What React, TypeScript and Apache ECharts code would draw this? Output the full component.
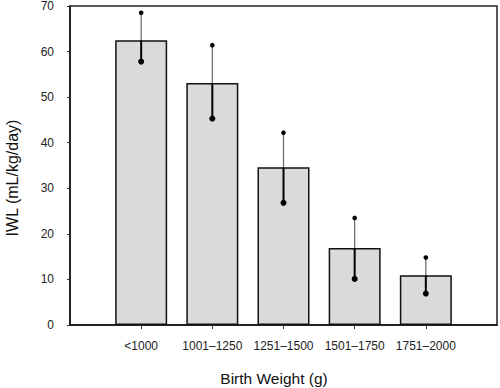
import React, { useEffect, useRef } from "react";
import * as echarts from "echarts";

const categories = ["", "<1000", "1001–1250", "1251–1500", "1501–1750", "1751–2000", ""];
const means = [62.5, 53.1, 34.6, 16.9, 10.9];
const lowers = [57.8, 45.3, 26.8, 10.1, 6.9];
const uppers = [68.5, 61.4, 42.2, 23.5, 14.8];
const yTicks = [0, 10, 20, 30, 40, 50, 60, 70];

export default function App() {
  const ref = useRef<HTMLDivElement>(null);
  useEffect(() => {
    const chart = echarts.init(ref.current!, null, { renderer: "svg" });
    const barData = categories.map((_, i) => (i >= 1 && i <= 5 ? means[i - 1] : "-"));
    const errData = means.map((m, i) => [i + 1, lowers[i], m, uppers[i]]);
    chart.setOption({
      animation: false,
      backgroundColor: "#fff",
      grid: {
        left: 70,
        right: 3,
        top: 4,
        bottom: 63,
        show: true,
        borderColor: "#222",
        borderWidth: 1.5,
      },
      xAxis: {
        type: "category",
        data: categories,
        boundaryGap: false,
        axisLine: { lineStyle: { color: "#111", width: 1.5 } },
        axisTick: {
          show: true,
          length: 4,
          interval: (i: number) => i >= 1 && i <= 5,
          lineStyle: { color: "#333" },
        },
        axisLabel: {
          interval: 0,
          margin: 15,
          color: "#222",
          fontSize: 12,
          fontFamily: "Liberation Sans, Arial",
        },
        splitLine: { show: false },
      },
      yAxis: {
        type: "value",
        min: yTicks[0],
        max: yTicks[yTicks.length - 1],
        interval: 10,
        axisLine: { show: true, lineStyle: { color: "#111", width: 1.5 } },
        axisTick: { show: true, length: 3, lineStyle: { color: "#333" } },
        axisLabel: {
          margin: 16,
          color: "#222",
          fontSize: 12,
          fontFamily: "Liberation Sans, Arial",
        },
        splitLine: { show: false },
      },
      graphic: [
        {
          type: "text",
          x: 12,
          y: 178,
          rotation: Math.PI / 2,
          style: {
            text: "IWL (mL/kg/day)",
            fontSize: 16,
            fontFamily: "Liberation Sans, Arial",
            fill: "#111",
            align: "center",
            verticalAlign: "middle",
          },
        },
        {
          type: "text",
          x: 274,
          y: 378,
          style: {
            text: "Birth Weight (g)",
            fontSize: 15.5,
            fontFamily: "Liberation Sans, Arial",
            fill: "#111",
            align: "center",
            verticalAlign: "middle",
          },
        },
      ],
      series: [
        {
          type: "bar",
          data: barData,
          barWidth: 52,
          itemStyle: { color: "#dadada", borderColor: "#111", borderWidth: 1.5 },
        },
        {
          type: "custom",
          data: errData,
          z: 10,
          renderItem: (params: any, api: any) => {
            const x = api.value(0);
            const lo = api.coord([x, api.value(1)]);
            const mid = api.coord([x, api.value(2)]);
            const hi = api.coord([x, api.value(3)]);
            return {
              type: "group",
              children: [
                {
                  type: "line",
                  shape: { x1: hi[0], y1: hi[1], x2: mid[0], y2: mid[1] },
                  style: { stroke: "#666", lineWidth: 1.2 },
                },
                {
                  type: "line",
                  shape: { x1: mid[0], y1: mid[1], x2: lo[0], y2: lo[1] },
                  style: { stroke: "#000", lineWidth: 2 },
                },
                { type: "circle", shape: { cx: hi[0], cy: hi[1], r: 2.3 }, style: { fill: "#000" } },
                { type: "circle", shape: { cx: lo[0], cy: lo[1], r: 3 }, style: { fill: "#000" } },
              ],
            };
          },
        },
      ],
    });
    return () => chart.dispose();
  }, []);
  return <div ref={ref} style={{ width: 500, height: 388, position: "absolute", left: 0, top: 0 }} />;
}
